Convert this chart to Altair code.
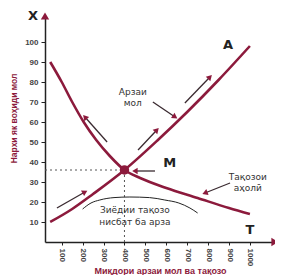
import math
import altair as alt
import pandas as pd

# ---- data ----
supply_q = [45, 150, 250, 400, 560, 700, 850, 1000]
supply_p = [10, 16.5, 24, 36, 51, 65, 81, 98]

demand_q = [45, 100, 150, 205, 265, 330, 400, 475, 600, 750, 900, 1000]
demand_p = [90, 80, 70, 60, 51, 43, 36, 32, 27, 22, 17, 14]

bracket_q = [200, 240, 282, 350, 426, 520, 593, 660, 713, 750]
bracket_p = [16.5, 19.5, 21, 22.2, 22.5, 22.2, 21, 19.5, 17, 14.5]

eq_q = [400]
eq_p = [36]

x_ticks = [100, 200, 300, 400, 500, 600, 700, 800, 900, 1000]
y_ticks = [10, 20, 30, 40, 50, 60, 70, 80, 90, 100]

arrow_q1 = [317, 465, 689, 77, 536, 905, 546]
arrow_p1 = [50, 46, 69.5, 17, 70, 29.5, 35.5]
arrow_q2 = [211, 555, 809, 211, 642, 785, 450]
arrow_p2 = [62.5, 56, 82.5, 25, 62.5, 24.5, 35.5]

label_text = ["Арзаи", "мол", "Тақозои", "аҳолӣ", "Зиёдии тақозо", "нисбат ба арза"]
label_q = [440, 440, 990, 990, 450, 450]
label_p = [75, 69.5, 32.5, 27, 16, 10]

big_text = ["A", "T", "M", "Х"]
big_q = [895, 1000, 617, -37]
big_p = [98.5, 6, 39.5, 113]

X_DOM = [20, 1120]
Y_DOM = [0, 113]
W, H = 230, 226
MAROON = "#8c1a3c"

xs = alt.Scale(domain=X_DOM, nice=False, zero=False)
ys = alt.Scale(domain=Y_DOM, nice=False, zero=False)

x_axis = alt.Axis(values=x_ticks, format="d", labelAngle=90, labelAlign="left", labelBaseline="middle",
                  labelOverlap=False, labelBound=False, labelFlush=False,
                  title="Миқдори арзаи мол ва тақозо", titleColor=MAROON,
                  titleFontSize=9, titleFontWeight="bold", titleY=28,
                  titleBaseline="middle",
                  labelFontSize=8, labelColor="#444", labelFontWeight="bold",
                  tickSize=3, tickColor="#222", domainColor="#222", domainWidth=1.5,
                  grid=False, labelPadding=3)
y_axis = alt.Axis(values=y_ticks, format="d", labelOverlap=False, labelBound=False, labelFlush=False,
                  title="Нархи як воҳиди мол", titleColor=MAROON,
                  titleFontSize=8.5, titleFontWeight="bold", titleX=-32, titleY=102,
                  titleBaseline="middle", titleAngle=270,
                  labelFontSize=8, labelColor="#444", labelFontWeight="bold",
                  tickSize=4, tickColor="#222", domainColor="#222", domainWidth=1.5,
                  grid=False, labelPadding=3)


def X(f):
    return alt.X(f, scale=xs, axis=x_axis)


def Y(f):
    return alt.Y(f, scale=ys, axis=y_axis)


supply = pd.DataFrame({"q": supply_q, "p": supply_p, "o": range(len(supply_q))})
demand = pd.DataFrame({"q": demand_q, "p": demand_p, "o": range(len(demand_q))})
bracket = pd.DataFrame({"q": bracket_q, "p": bracket_p, "o": range(len(bracket_q))})
eq = pd.DataFrame({"q": eq_q, "p": eq_p, "q0": [X_DOM[0]], "p0": [Y_DOM[0]]})

px_per_q = W / (X_DOM[1] - X_DOM[0])
px_per_p = H / (Y_DOM[1] - Y_DOM[0])
angles = []
for a, b, c, d in zip(arrow_q1, arrow_p1, arrow_q2, arrow_p2):
    dx = (c - a) * px_per_q
    dy = -(d - b) * px_per_p
    angles.append(math.degrees(math.atan2(dx, -dy)) % 360)
arrows = pd.DataFrame({"q1": arrow_q1, "p1": arrow_p1, "q2": arrow_q2, "p2": arrow_p2, "ang": angles})

labels = pd.DataFrame({"t": label_text, "q": label_q, "p": label_p})
bigs = pd.DataFrame({"t": big_text, "q": big_q, "p": big_p})

dash_h = alt.Chart(eq).mark_rule(strokeDash=[2, 3], color="#555", strokeWidth=1).encode(
    x=X("q0:Q"), x2="q", y=Y("p:Q"))
dash_v = alt.Chart(eq).mark_rule(strokeDash=[2, 3], color="#555", strokeWidth=1).encode(
    x=X("q:Q"), y=Y("p:Q"), y2="p0")

supply_line = alt.Chart(supply).mark_line(color=MAROON, strokeWidth=2.6, interpolate="monotone").encode(
    x=X("q:Q"), y=Y("p:Q"), order="o:O")
demand_line = alt.Chart(demand).mark_line(color=MAROON, strokeWidth=2.6, interpolate="monotone").encode(
    x=X("q:Q"), y=Y("p:Q"), order="o:O")
bracket_line = alt.Chart(bracket).mark_line(color="#222", strokeWidth=1, interpolate="monotone").encode(
    x=X("q:Q"), y=Y("p:Q"), order="o:O")

eq_pt = alt.Chart(eq).mark_point(filled=True, color=MAROON, size=90, opacity=1).encode(
    x=X("q:Q"), y=Y("p:Q"))

arrow_lines = alt.Chart(arrows).mark_rule(color="#3a2a30", strokeWidth=1.3).encode(
    x=X("q1:Q"), y=Y("p1:Q"), x2="q2", y2="p2")
arrow_heads = alt.Chart(arrows).mark_point(shape="triangle-up", filled=True, color=MAROON,
                                           size=40, opacity=1).encode(
    x=X("q2:Q"), y=Y("p2:Q"), angle=alt.Angle("ang:Q", scale=None))

axis_heads = alt.Chart(pd.DataFrame({"q": [X_DOM[0], X_DOM[1]], "p": [Y_DOM[1], Y_DOM[0]],
                                     "ang": [0, 90]})).mark_point(
    shape="triangle-up", filled=True, color=MAROON, size=70, opacity=1).encode(
    x=X("q:Q"), y=Y("p:Q"), angle=alt.Angle("ang:Q", scale=None))

label_marks = alt.Chart(labels).mark_text(fontSize=9, color="#333", font="DejaVu Sans").encode(
    x=X("q:Q"), y=Y("p:Q"), text="t:N")
big_marks = alt.Chart(bigs).mark_text(fontSize=13, fontWeight="bold", color="#222",
                                      font="DejaVu Sans").encode(
    x=X("q:Q"), y=Y("p:Q"), text="t:N")

chart = alt.layer(
    dash_h, dash_v, bracket_line, supply_line, demand_line,
    arrow_lines, arrow_heads, axis_heads, eq_pt, label_marks, big_marks
).properties(
    width=W, height=H,
    autosize=alt.AutoSizeParams(type="none"),
    padding={"left": 37, "top": 8, "right": 0, "bottom": 33},
).configure_view(stroke=None, clip=False).configure_axis(labelOverlap=False)

chart.save("out.html", embed_options={"renderer": "svg", "actions": False})
